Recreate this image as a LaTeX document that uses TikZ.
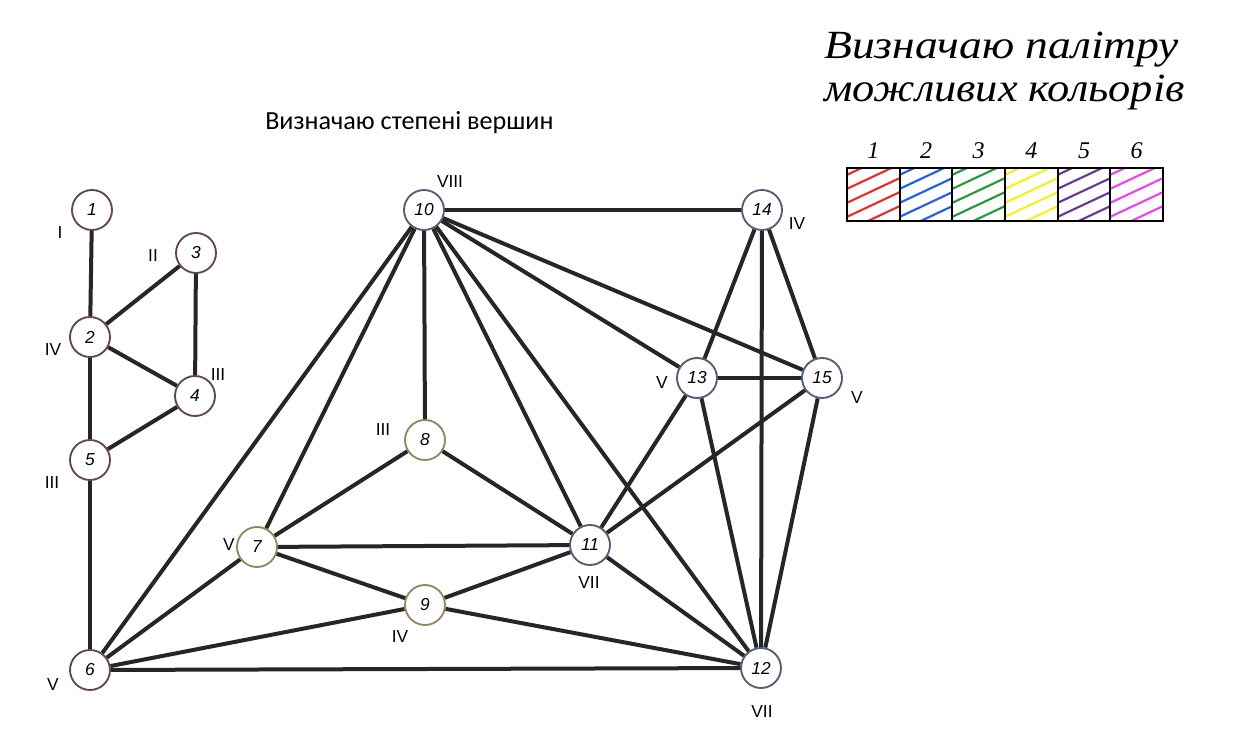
\documentclass[tikz,border=0pt]{standalone}
\usepackage{fontspec}
\setmainfont{Liberation Sans}
\newfontfamily\hand{Liberation Serif}
\newfontfamily\calib{Carlito}
\begin{document}
\begin{tikzpicture}[x=0.75pt,y=-0.75pt,
  edge/.style={line width=3pt,draw={rgb,255:red,38;green,38;blue,38}},
  vx/.style={circle,draw,line width=1.4pt,fill=white,minimum size=30pt,inner sep=0pt,font=\fontsize{13}{13}\selectfont\itshape},
  va/.style={vx,draw={rgb,255:red,100;green,70;blue,80}},
  vb/.style={vx,draw={rgb,255:red,150;green,135;blue,90}},
  vc/.style={vx,draw={rgb,255:red,80;green,95;blue,115}},
  deg/.style={font=\fontsize{13}{13}\selectfont,inner sep=0pt},
  cell/.style={rectangle,draw=black,line width=1.5pt,minimum width=39.5pt,minimum height=39.5pt,inner sep=0pt,
    path picture={\foreach \k in {-45,-31,...,75}
      \draw[#1,line width=1.6pt,line cap=round] ([shift={(-32,\k)}]path picture bounding box.center) -- ++(64,-30);}},
  num/.style={font=\hand\itshape\fontsize{18}{18}\selectfont,inner sep=0pt,anchor=base},
  hw/.style={font=\hand\itshape\fontsize{30}{30}\selectfont,anchor=west,inner sep=0pt}
]
\useasboundingbox (0,0) rectangle (1238,741);
\definecolor{hr}{RGB}{232,45,40}
\definecolor{hb}{RGB}{30,95,235}
\definecolor{hg}{RGB}{35,155,60}
\definecolor{hy}{RGB}{245,240,30}
\definecolor{hp}{RGB}{105,55,150}
\definecolor{hm}{RGB}{240,65,240}

% title
\node[font=\calib\fontsize{19.6}{19.6}\selectfont,anchor=west,inner sep=0pt] (title) at (265,123) {Визначаю степені вершин};
\node[hw] (hw1) at (824,50) {\scalebox{1.14}[1]{Визначаю палітру}};
\node[hw] (hw2) at (824,93) {\scalebox{1.11}[1]{можливих кольорів}};

% palette
\node[cell=hr] (c1) at (873.3,194.5) {};
\node[cell=hb] (c2) at (926,194.5) {};
\node[cell=hg] (c3) at (978.6,194.5) {};
\node[cell=hy] (c4) at (1031.3,194.5) {};
\node[cell=hp] (c5) at (1084,194.5) {};
\node[cell=hm] (c6) at (1136.6,194.5) {};
\foreach \i in {1,...,6} \node[num] (p\i) at ([yshift=27pt]c\i.center) {\i};

% vertices
\node[va] (n1) at (92,210) {1};
\node[va] (n2) at (90,337) {2};
\node[va] (n3) at (196,253) {3};
\node[va] (n4) at (195,396) {4};
\node[va] (n5) at (90,460) {5};
\node[va] (n6) at (90,670) {6};
\node[vb] (n7) at (257,547) {7};
\node[vb] (n8) at (425,440) {8};
\node[vb] (n9) at (425,605) {9};
\node[vc] (n10) at (424,210) {10};
\node[vc] (n11) at (590,545) {11};
\node[vc] (n12) at (761,668) {12};
\node[vc] (n13) at (697,378) {13};
\node[vc] (n14) at (762,210) {14};
\node[vc] (n15) at (822,378) {15};

% edges
\foreach \a/\b in {1/2,2/3,2/4,3/4,2/5,4/5,5/6,
  6/10,6/7,6/9,6/12,7/10,7/8,7/11,7/9,8/10,8/11,9/11,9/12,
  10/14,10/11,10/12,10/13,10/15,11/12,11/13,11/15,
  12/13,12/14,12/15,13/14,13/15,14/15}
  \draw[edge] (n\a) -- (n\b);

% degrees
\node[deg] (d1) at (60,233) {I};
\node[deg] (d2) at (53,350) {IV};
\node[deg] (d3) at (153,256) {II};
\node[deg] (d4) at (218,375) {III};
\node[deg] (d5) at (52,483) {III};
\node[deg] (d6) at (53,685) {V};
\node[deg] (d7) at (229,545) {V};
\node[deg] (d8) at (383,430) {III};
\node[deg] (d9) at (400,637) {IV};
\node[deg] (d10) at (450,182) {VIII};
\node[deg] (d11) at (589,583) {VII};
\node[deg] (d12) at (762,712) {VII};
\node[deg] (d13) at (662,383) {V};
\node[deg] (d14) at (797,224) {IV};
\node[deg] (d15) at (857,398) {V};
\end{tikzpicture}
\end{document}
